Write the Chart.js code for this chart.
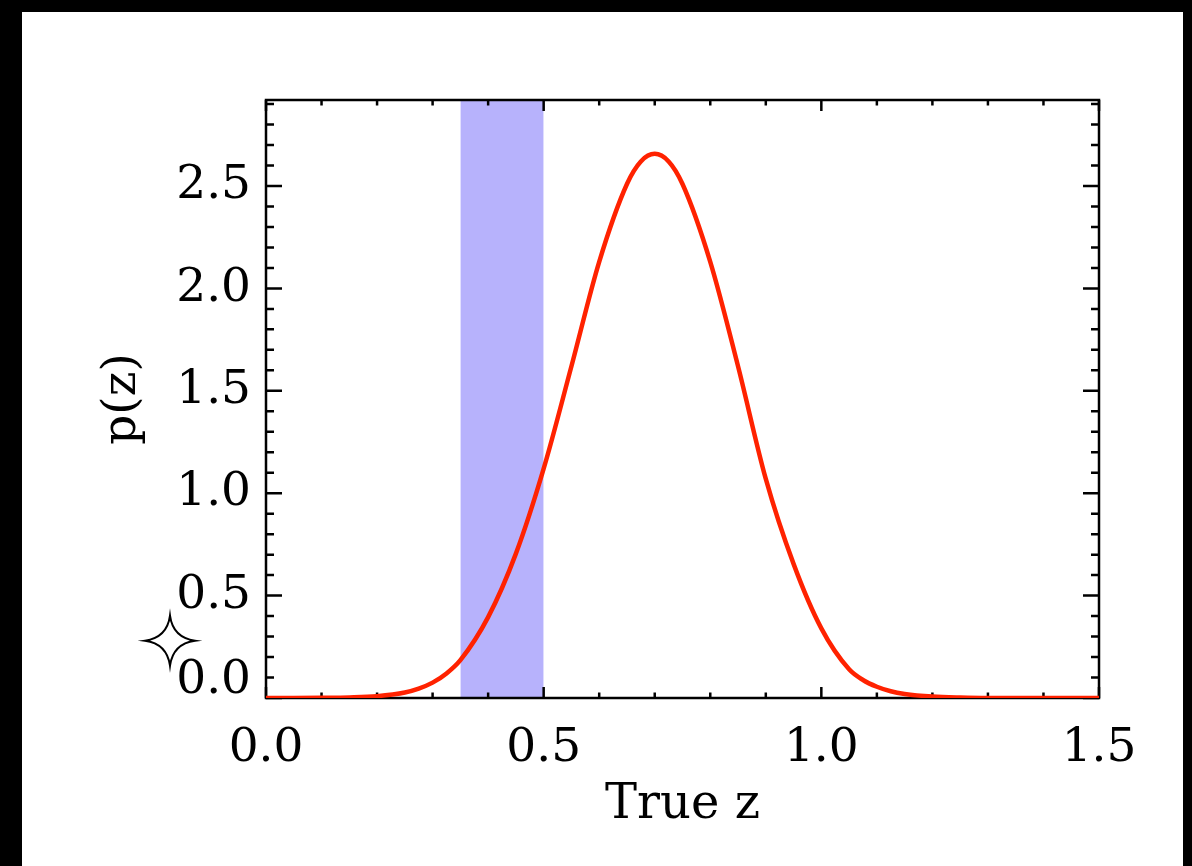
<!DOCTYPE html>
<html>
<head>
<meta charset="utf-8">
<title>p(z)</title>
<script src="https://cdn.jsdelivr.net/npm/chart.js@4.4.1/dist/chart.umd.min.js"></script>
<style>
  html, body { margin: 0; padding: 0; background: #000; }
  #frame { position: absolute; left: 22px; top: 12px; width: 1161px; height: 854px; background: #fff; }
  canvas { display: block; }
</style>
</head>
<body>
<div id="frame"><canvas id="pzChart"></canvas></div>
<script>
// redshift grid and probability density
const Z = [0.00, 0.05, 0.10, 0.15, 0.20, 0.25, 0.275, 0.30, 0.325, 0.35, 0.40, 0.45, 0.50, 0.55, 0.60, 0.65, 0.675,
           0.70, 0.725, 0.75, 0.80, 0.85, 0.90, 0.95, 1.00, 1.05, 1.075, 1.10, 1.125, 1.15, 1.20, 1.25, 1.30, 1.35, 1.40, 1.45, 1.50];
const PZ = [0.000, 0.000, 0.001, 0.003, 0.009, 0.027, 0.046, 0.075, 0.120, 0.185, 0.395, 0.705, 1.120, 1.620, 2.130, 2.510, 2.620,
            2.657, 2.620, 2.510, 2.130, 1.620, 1.070, 0.655, 0.340, 0.140, 0.088, 0.055, 0.033, 0.020, 0.007, 0.002, 0.000, 0.000, 0.000, 0.000, 0.000];

// shaded redshift interval
const BAND = [0.35, 0.50];

const X_TICKS = [0.0, 0.5, 1.0, 1.5];
const Y_TICKS = [0.0, 0.5, 1.0, 1.5, 2.0, 2.5];
const Y_MAX = 2.92;

const SERIF = '"DejaVu Serif", "Liberation Serif", serif';

// four-pointed open star marker
function drawStar(ctx, cx, cy, r, w) {
    ctx.beginPath();
    ctx.moveTo(cx, cy - r);
    ctx.quadraticCurveTo(cx + w, cy - w, cx + r, cy);
    ctx.quadraticCurveTo(cx + w, cy + w, cx, cy + r);
    ctx.quadraticCurveTo(cx - w, cy + w, cx - r, cy);
    ctx.quadraticCurveTo(cx - w, cy - w, cx, cy - r);
    ctx.closePath();
    ctx.stroke();
}

// box axes with inward ticks on all four sides
const boxAxes = {
    id: 'boxAxes',
    beforeDatasetDraw(chart, args) {
        if (args.index !== 0) return;
        const { ctx, chartArea: a, scales: { x, y } } = chart;
        ctx.save();
        ctx.strokeStyle = '#000';
        ctx.lineWidth = 2.5;
        ctx.beginPath();
        for (let i = 0; i <= 15; i++) {
            const px = x.getPixelForValue(i / 10);
            const len = i % 5 === 0 ? 11 : 5.5;
            ctx.moveTo(px, a.bottom); ctx.lineTo(px, a.bottom - len);
            ctx.moveTo(px, a.top); ctx.lineTo(px, a.top + len);
        }
        for (let i = 0; i / 10 <= y.max; i++) {
            const py = y.getPixelForValue(i / 10);
            const len = i % 5 === 0 ? 16 : 8;
            ctx.moveTo(a.left, py); ctx.lineTo(a.left + len, py);
            ctx.moveTo(a.right, py); ctx.lineTo(a.right - len, py);
        }
        ctx.stroke();
        ctx.strokeRect(a.left, a.top, a.width, a.height);
        ctx.restore();
    },
    afterDraw(chart) {
        const { ctx, chartArea: a, scales: { y } } = chart;
        ctx.save();
        ctx.strokeStyle = '#000';
        ctx.lineWidth = 2;
        ctx.lineJoin = 'miter';
        drawStar(ctx, a.left - 96, y.getPixelForValue(0.28), 25, 3);
        ctx.restore();
    }
};

const ctx = document.getElementById('pzChart').getContext('2d');
const chart = new Chart(ctx, {
    type: 'line',
    data: {
        datasets: [
            {
                label: 'p(z)',
                data: Z.map((z, i) => ({ x: z, y: PZ[i] })),
                borderColor: '#ff2200',
                borderWidth: 4.5,
                pointRadius: 0,
                cubicInterpolationMode: 'monotone',
                fill: false
            },
            {
                label: 'interval',
                data: [{ x: BAND[0], y: Y_MAX }, { x: BAND[1], y: Y_MAX }],
                borderWidth: 0,
                pointRadius: 0,
                backgroundColor: '#b7b2fc',
                fill: 'origin'
            }
        ]
    },
    options: {
        responsive: true, maintainAspectRatio: false, animation: false,
        layout: { padding: { left: 0, right: 84, top: 88, bottom: 0 } },
        plugins: { legend: { display: false }, tooltip: { enabled: false } },
        scales: {
            x: {
                type: 'linear', min: 0, max: 1.5,
                afterBuildTicks: s => { s.ticks = X_TICKS.map(v => ({ value: v })); },
                afterFit: s => { s.height = 168; },
                grid: { display: false, drawTicks: false },
                border: { display: false },
                ticks: { padding: 23, color: '#000', maxRotation: 0, autoSkip: false,
                         font: { family: SERIF, size: 47 }, callback: v => v.toFixed(1) },
                title: { display: true, text: 'True z', color: '#000',
                         font: { family: SERIF, size: 48 }, padding: { top: 0, bottom: 32 } }
            },
            y: {
                type: 'linear', min: 0, max: Y_MAX,
                afterBuildTicks: s => { s.ticks = Y_TICKS.map(v => ({ value: v })); },
                afterFit: s => { s.width = 244; },
                grid: { display: false, drawTicks: false },
                border: { display: false },
                // the 0.0 label sits a little above the bottom axis
                ticks: { padding: 15, color: '#000', autoSkip: false,
                         font: { family: SERIF, size: 47, lineHeight: 0.72 },
                         callback: v => v === 0 ? ['0.0', ''] : v.toFixed(1) },
                title: { display: true, text: 'p(z)', color: '#000',
                         font: { family: SERIF, size: 47 }, padding: { top: 73, bottom: 0 } }
            }
        }
    },
    plugins: [boxAxes]
});
</script>
</body>
</html>
